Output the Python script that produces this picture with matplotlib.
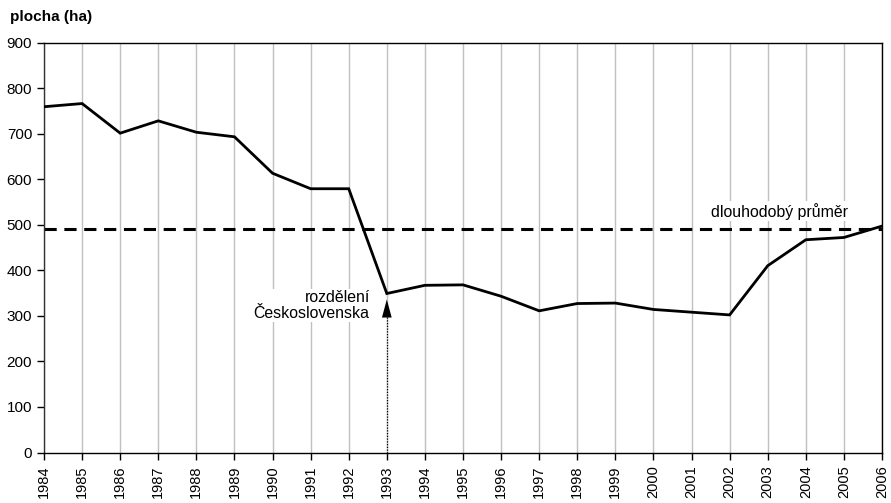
import matplotlib
matplotlib.use("Agg")
from matplotlib import pyplot as plt

plt.rcParams['font.family'] = ['Liberation Sans', 'DejaVu Sans']

# data
years = list(range(1984, 2007))
area = [759, 766, 701, 728, 703, 693, 613, 579, 579, 349, 367, 368, 343, 311,
        327, 328, 314, 308, 302, 410, 467, 472, 497]
long_term_mean = 490
split_year = 1993

fig = plt.figure(figsize=(8.91, 5.03), dpi=100)
ax = fig.add_axes([44 / 891, 1 - 452.5 / 503, 838 / 891, 410 / 503])

# vertical year grid
for y in years:
    ax.axvline(y, color='#c0c0c0', lw=1, zorder=0)

ax.axhline(long_term_mean, color='black', lw=2.2, ls=(0, (4, 2.5)), zorder=2)
ax.plot(years, area, color='black', lw=2, zorder=3, solid_joinstyle='miter')

# split of Czechoslovakia marker
ax.plot([split_year, split_year], [0, 302], color='black', lw=0.9,
        ls=(0, (1, 1.2)), zorder=2)
ax.annotate('', xy=(split_year, 342), xytext=(split_year, 300),
            arrowprops=dict(arrowstyle='-|>,head_width=0.35,head_length=1.3',
                            color='black', lw=0), zorder=4)
ax.text(split_year - 0.45, 323, 'rozdělení\nČeskoslovenska', ha='right',
        va='center', fontsize=11.4, linespacing=1.05, zorder=4,
        bbox=dict(facecolor='white', edgecolor='none', pad=1))
ax.text(2003.3, 530, 'dlouhodobý průměr', ha='center', va='center',
        fontsize=11.4, zorder=4,
        bbox=dict(facecolor='white', edgecolor='none', pad=1))

ax.set_xlim(1984, 2006)
ax.set_ylim(0, 900)
ax.set_xticks(years)
ax.set_xticklabels([str(y) for y in years], rotation=90)
ax.set_yticks(range(0, 901, 100))
ax.tick_params(axis='both', labelsize=11, length=5, width=1, direction='out')
ax.tick_params(axis='x', labelsize=10.5, pad=4)
for s in ax.spines.values():
    s.set_linewidth(1)
ax.spines['left'].set_color('#333333')

fig.text(10 / 891, 1 - 17 / 503, 'plocha (ha)', fontsize=11,
         fontweight='bold', va='center', ha='left')

fig.savefig('out.png', dpi=100)
